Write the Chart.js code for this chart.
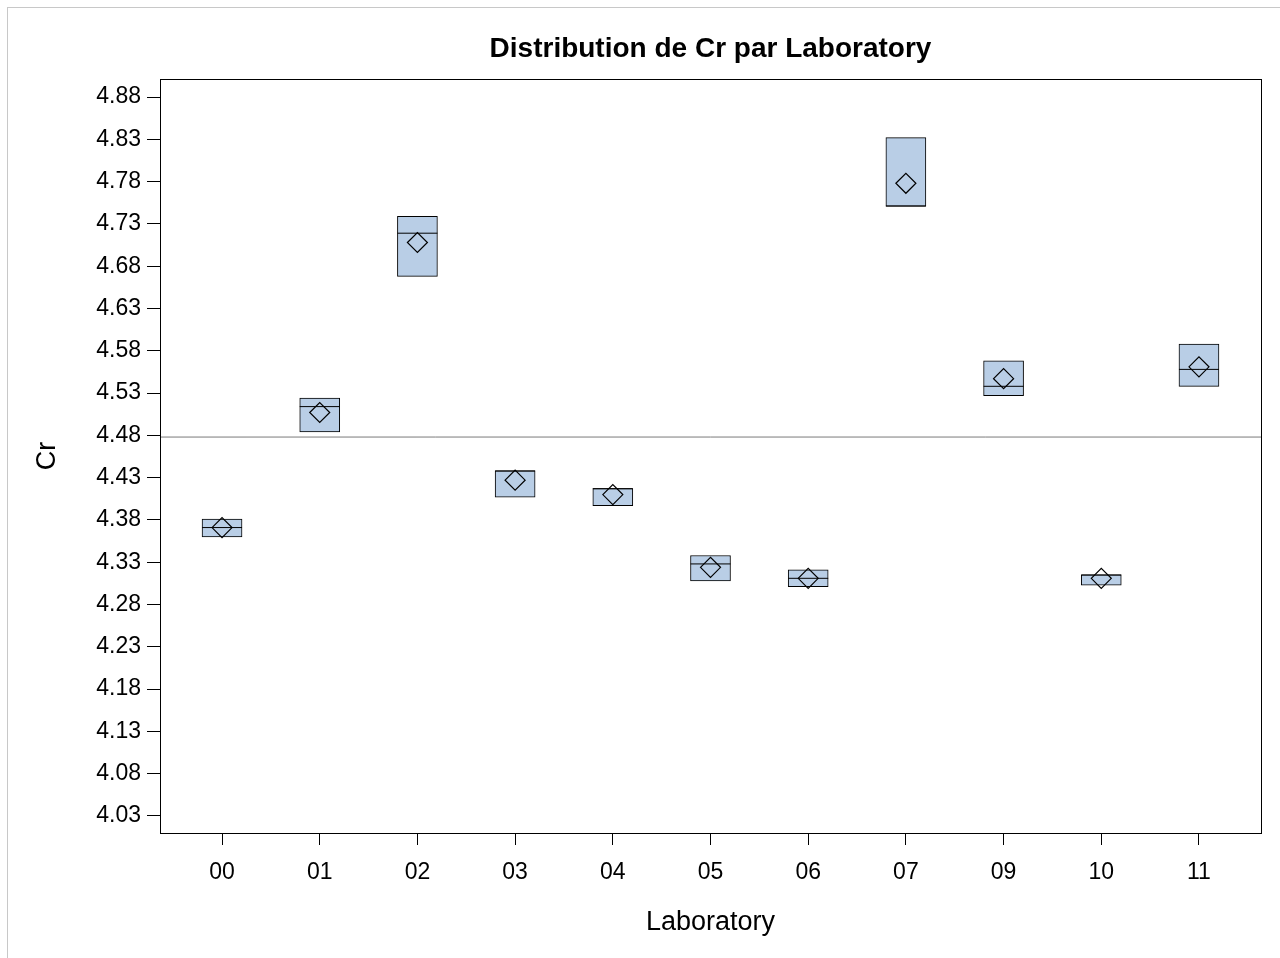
<!DOCTYPE html>
<html>
<head>
<meta charset="utf-8">
<script src="https://cdn.jsdelivr.net/npm/chart.js@4"></script>
<style>
  html, body { margin: 0; padding: 0; background: #fff; overflow: hidden; }
  #frame { position: absolute; left: 7px; top: 7px; width: 1300px; height: 1000px; border-left: 1px solid #c8c8c8; border-top: 1px solid #c8c8c8; }
  #wrap { position: absolute; left: 0; top: 0; width: 1282px; height: 958px; }
</style>
</head>
<body>
<div id="frame"></div>
<div id="wrap"><canvas id="chart"></canvas></div>
<script>
// data
const labs = ['00', '01', '02', '03', '04', '05', '06', '07', '09', '10', '11'];
const boxLow = [4.360, 4.484, 4.668, 4.407, 4.397, 4.308, 4.301, 4.751, 4.527, 4.303, 4.538];
const boxHigh = [4.381, 4.524, 4.739, 4.438, 4.417, 4.338, 4.321, 4.832, 4.568, 4.315, 4.588];
const medians = [4.371, 4.514, 4.719, 4.438, 4.417, 4.328, 4.311, 4.751, 4.538, 4.315, 4.558];
const means = [4.371, 4.507, 4.708, 4.427, 4.410, 4.324, 4.311, 4.778, 4.547, 4.311, 4.561];
const grandMean = 4.478;
const yTicks = [4.03, 4.08, 4.13, 4.18, 4.23, 4.28, 4.33, 4.38, 4.43, 4.48, 4.53, 4.58, 4.63, 4.68, 4.73, 4.78, 4.83, 4.88];

const xMin = -0.635, xMax = 10.635;
const yMin = 4.0099, yMax = 4.9013;
const FONT = '"Liberation Sans", Arial, sans-serif';

// black frame round the plot area
const frameBox = {
  id: 'frameBox',
  afterDraw(chart) {
    const a = chart.chartArea, ctx = chart.ctx;
    ctx.save();
    ctx.strokeStyle = '#000';
    ctx.lineWidth = 1;
    ctx.strokeRect(Math.round(a.left) + 0.5, Math.round(a.top) + 0.5, Math.round(a.right - a.left), Math.round(a.bottom - a.top));
    ctx.restore();
  }
};

const ctx = document.getElementById('chart').getContext('2d');
new Chart(ctx, {
  type: 'bar',
  data: {
    datasets: [
      {
        type: 'scatter',
        order: 0,
        data: labs.map((l, i) => ({ x: i, y: means[i] })),
        pointStyle: 'rectRot',
        pointRadius: 10,
        pointHoverRadius: 10,
        backgroundColor: 'rgba(0,0,0,0)',
        borderColor: '#000',
        borderWidth: 1.2
      },
      {
        type: 'scatter',
        order: 1,
        data: labs.map((l, i) => ({ x: i, y: medians[i] })),
        pointStyle: 'line',
        pointRadius: 20,
        pointHoverRadius: 20,
        borderColor: '#000',
        borderWidth: 1
      },
      {
        type: 'line',
        order: 2,
        data: [{ x: xMin, y: grandMean }, { x: xMax, y: grandMean }],
        borderColor: '#7a7a7a',
        borderWidth: 1,
        pointRadius: 0
      },
      {
        type: 'bar',
        order: 3,
        data: labs.map((l, i) => ({ x: i, y: [boxLow[i], boxHigh[i]] })),
        backgroundColor: '#b9cee6',
        borderColor: '#000',
        borderWidth: 1,
        borderSkipped: false,
        barThickness: 40
      }
    ]
  },
  options: {
    responsive: true,
    maintainAspectRatio: false,
    animation: false,
    layout: { padding: { top: 32, right: 19, bottom: 0, left: 0 } },
    plugins: {
      legend: { display: false },
      tooltip: { enabled: false },
      title: {
        display: true,
        text: 'Distribution de Cr par Laboratory',
        fullSize: false,
        color: '#000',
        font: { family: FONT, size: 28, weight: 'bold' },
        padding: { top: 0, bottom: 13.4 }
      }
    },
    scales: {
      x: {
        type: 'linear',
        min: xMin,
        max: xMax,
        offset: false,
        afterFit: (s) => { s.height = 125; s.paddingLeft = 0; s.paddingRight = 0; },
        afterBuildTicks: (s) => { s.ticks = labs.map((l, i) => ({ value: i })); },
        ticks: {
          autoSkip: false,
          maxRotation: 0,
          padding: 14,
          color: '#000',
          font: { family: FONT, size: 23 },
          callback: (v) => labs[v]
        },
        grid: { offset: false, drawOnChartArea: false, color: '#000', tickLength: 12 },
        border: { display: true, color: '#000' },
        title: {
          display: true,
          text: 'Laboratory',
          color: '#000',
          font: { family: FONT, size: 27 },
          padding: { top: 14, bottom: 19 }
        }
      },
      y: {
        type: 'linear',
        min: yMin,
        max: yMax,
        afterFit: (s) => { s.width = 160; },
        afterBuildTicks: (s) => { s.ticks = yTicks.map(v => ({ value: v })); },
        ticks: {
          padding: 6,
          color: '#000',
          font: { family: FONT, size: 23 },
          callback: (v) => v.toFixed(2)
        },
        grid: { drawOnChartArea: false, color: '#000', tickLength: 13 },
        border: { display: true, color: '#000' },
        title: {
          display: true,
          text: 'Cr',
          color: '#000',
          font: { family: FONT, size: 27 },
          padding: { top: 31 }
        }
      }
    }
  },
  plugins: [frameBox]
});
</script>
</body>
</html>
